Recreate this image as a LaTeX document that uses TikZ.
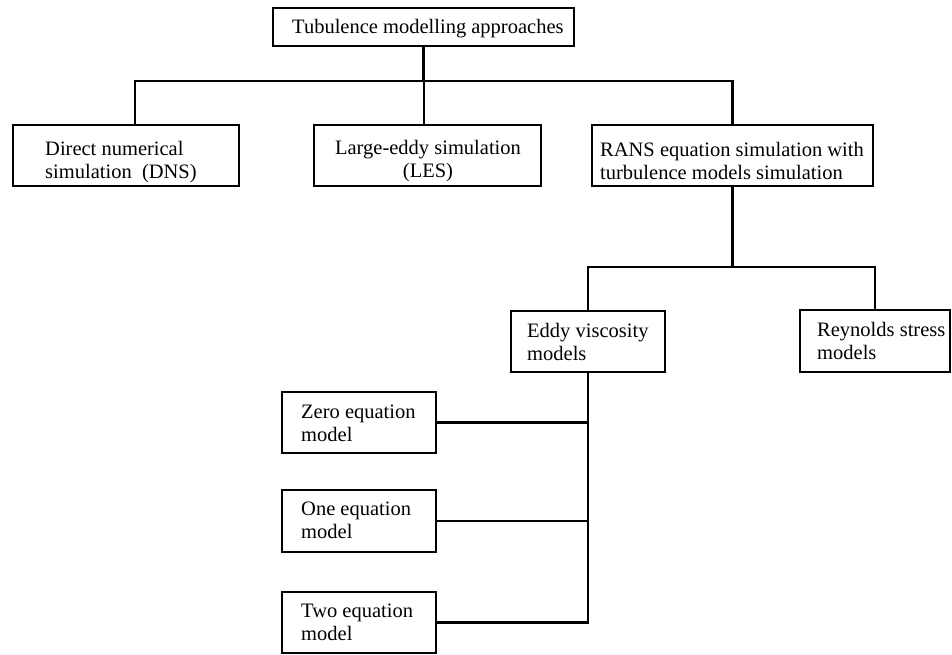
\documentclass[tikz,border=0pt]{standalone}
\usepackage{fontspec}
\setmainfont{Liberation Serif}
\begin{document}
\begin{tikzpicture}[x=1pt,y=-1pt,
  box/.style={draw, line width=2.3pt, inner sep=0pt, minimum width=#1},
  conn/.style={line width=2.1pt},
  txt/.style={inner sep=0pt, align=left, font=\fontsize{20.5pt}{23pt}\selectfont},
  ctxt/.style={inner sep=0pt, align=center, font=\fontsize{20.5pt}{23pt}\selectfont}]
\useasboundingbox (0,0) rectangle (952,655);
% boxes
\node[box=301pt, minimum height=38pt] (top) at (423.5,27) {};
\node[box=226pt, minimum height=61pt] (dns) at (126,155.5) {};
\node[box=227pt, minimum height=61pt] (les) at (427.5,155.5) {};
\node[box=281pt, minimum height=61pt] (rans) at (732.5,155.5) {};
\node[box=154pt, minimum height=61pt] (eddy) at (588,341.5) {};
\node[box=150pt, minimum height=62pt] (rey) at (875,341) {};
\node[box=154pt, minimum height=61pt] (zero) at (359,422.5) {};
\node[box=154pt, minimum height=62pt] (one) at (359,521) {};
\node[box=154pt, minimum height=61pt] (two) at (359,622.5) {};
% texts
\node[txt, anchor=north west] (topT) at (292,19) {Tubulence modelling approaches};
\node[txt, anchor=north west] (dnsT) at (45,141) {Direct numerical\\simulation~ (DNS)};
\node[ctxt, anchor=north] (lesT) at (428,140) {Large-eddy simulation\\(LES)};
\node[txt, anchor=north west] (ransT) at (600,142) {RANS equation simulation with\\turbulence models simulation};
\node[txt, anchor=north west] (eddyT) at (527,323) {Eddy viscosity\\models};
\node[txt, anchor=north west] (reyT) at (817,322) {Reynolds stress\\models};
\node[txt, anchor=north west] (zeroT) at (301,405) {Zero equation\\model};
\node[txt, anchor=north west] (oneT) at (301,502) {One equation\\model};
\node[txt, anchor=north west] (twoT) at (301,604) {Two equation\\model};
% junctions
\coordinate (h1) at (0,81);
\coordinate (h2) at (0,267);
% connectors
\draw[conn] (top.south) -- (top.south |- h1);
\draw[conn] ([xshift=9pt]dns.north) |- (h1 -| rans.north) -- (rans.north);
\draw[conn] ([xshift=-3.5pt]les.north) -- ([xshift=-3.5pt]les.north |- h1);
\draw[conn] (rans.south) -- (rans.south |- h2);
\draw[conn] (eddy.north) |- (h2 -| rey.north) -- (rey.north);
\draw[conn] (eddy.south) |- (two.east);
\draw[conn] (zero.east) -- (zero.east -| eddy.south);
\draw[conn] (one.east) -- (one.east -| eddy.south);
\end{tikzpicture}
\end{document}
